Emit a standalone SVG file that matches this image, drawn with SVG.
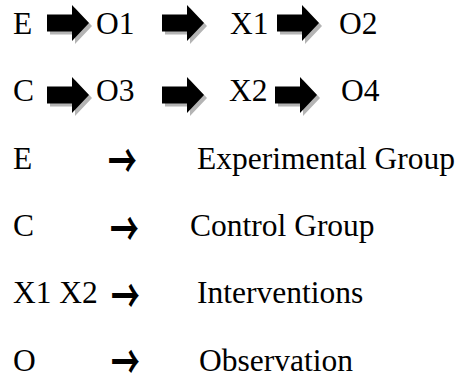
<svg xmlns="http://www.w3.org/2000/svg" width="465" height="377" viewBox="0 0 465 377">
<style>
.t{font-family:'Liberation Serif','Times New Roman',serif;font-size:31.5px;fill:#000}
.sym{font-family:'Noto Sans CJK JP','Noto Sans CJK SC',sans-serif;font-size:48px;font-weight:700;fill:#000;dominant-baseline:central}
.shadow{fill:#b4b4b4}
.blk{fill:#000}
</style>
<defs>
<path id="barrow" d="M0,-8.5 H25 V-18 L42,0 L25,18 V8.5 H0 Z"/>
</defs>
<rect width="465" height="377" fill="#fff"/>
<g id="connectors">
<g transform="translate(47,23)"><use href="#barrow" class="shadow" x="3" y="3"/><use href="#barrow" class="blk"/></g>
<g transform="translate(162,23)"><use href="#barrow" class="shadow" x="3" y="3"/><use href="#barrow" class="blk"/></g>
<g transform="translate(277,23)"><use href="#barrow" class="shadow" x="3" y="3"/><use href="#barrow" class="blk"/></g>
<g transform="translate(47,95)"><use href="#barrow" class="shadow" x="3" y="3"/><use href="#barrow" class="blk"/></g>
<g transform="translate(162,95)"><use href="#barrow" class="shadow" x="3" y="3"/><use href="#barrow" class="blk"/></g>
<g transform="translate(275,95)"><use href="#barrow" class="shadow" x="3" y="3"/><use href="#barrow" class="blk"/></g>
</g>
<g id="row1">
<g id="E1"><text class="t" x="13" y="34">E</text></g>
<g id="O1"><text class="t" x="96" y="34">O1</text></g>
<g id="X1"><text class="t" x="230" y="34">X1</text></g>
<g id="O2"><text class="t" x="339" y="34">O2</text></g>
</g>
<g id="row2">
<g id="C1"><text class="t" x="13" y="101">C</text></g>
<g id="O3"><text class="t" x="96" y="101">O3</text></g>
<g id="X2"><text class="t" x="229" y="101">X2</text></g>
<g id="O4"><text class="t" x="341" y="101">O4</text></g>
</g>
<g id="legend">
<g id="leg-E"><text class="t" x="13" y="169">E</text><text class="sym" transform="translate(108,157) scale(0.6,1)" x="0" y="0">→</text><text class="t" x="197" y="169">Experimental Group</text></g>
<g id="leg-C"><text class="t" x="13" y="236">C</text><text class="sym" transform="translate(110,225) scale(0.6,1)" x="0" y="0">→</text><text class="t" x="190" y="236">Control Group</text></g>
<g id="leg-X"><text class="t" x="13" y="303">X1 X2</text><text class="sym" transform="translate(111,292) scale(0.6,1)" x="0" y="0">→</text><text class="t" x="197" y="303">Interventions</text></g>
<g id="leg-O"><text class="t" x="13" y="371">O</text><text class="sym" transform="translate(111,358) scale(0.6,1)" x="0" y="0">→</text><text class="t" x="199" y="371">Observation</text></g>
</g>
</svg>
